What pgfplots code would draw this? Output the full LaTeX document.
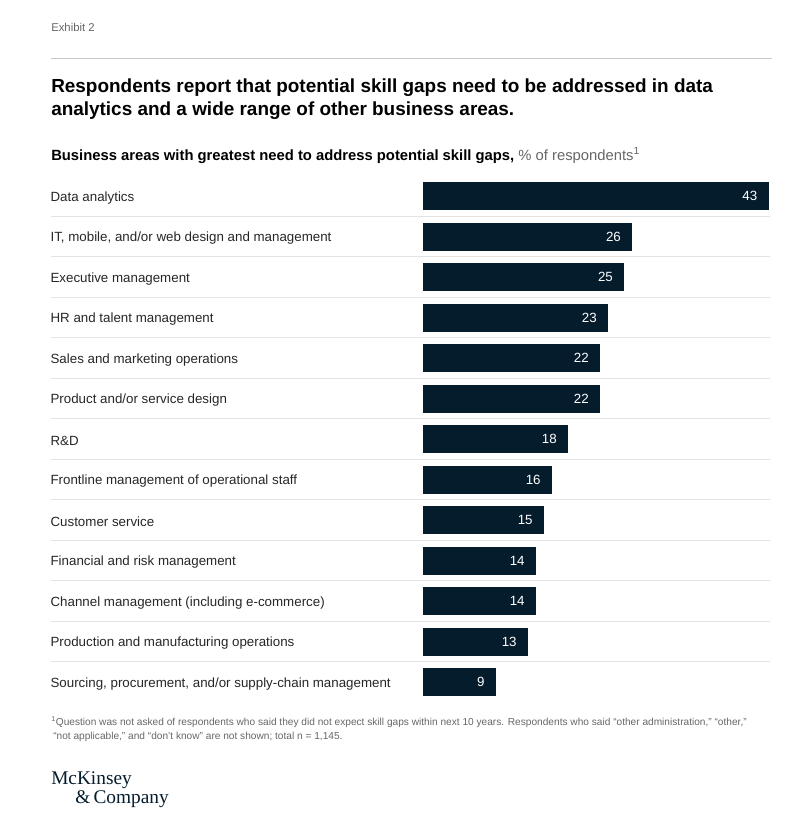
\documentclass[border=0pt]{standalone}
\usepackage{pgfplots}
\pgfplotsset{compat=1.18}
\usepackage{fontspec}
\setmainfont{Liberation Sans}
\newfontfamily\logofont{Liberation Serif}
\definecolor{navy}{HTML}{051C2C}
\definecolor{labelgray}{HTML}{262626}
\definecolor{notegray}{HTML}{666666}
\definecolor{rulegray}{HTML}{C8C8C8}
\definecolor{sepgray}{HTML}{E3E3E3}
\pgfplotstableread{
row val
0 43
1 26
2 25
3 23
4 22
5 22
6 18
7 16
8 15
9 14
10 14
11 13
12 9
}\skilldata
\begin{document}
\begin{tikzpicture}[x=0.75pt,y=-0.75pt]
\useasboundingbox (0,0) rectangle (790,819);
% header
\node[anchor=base west,inner sep=0pt,text=notegray,font=\fontsize{8.5pt}{10pt}\selectfont] at (51,31) {Exhibit 2};
\draw[rulegray,line width=0.75pt] (51,58) -- (772,58);
\node[anchor=base west,inner sep=0pt,font=\fontsize{14.2pt}{16pt}\selectfont\bfseries] at (51,92) {Respondents report that potential skill gaps need to be addressed in data};
\node[anchor=base west,inner sep=0pt,font=\fontsize{14.2pt}{16pt}\selectfont\bfseries] at (51,115) {analytics and a wide range of other business areas.};
\node[anchor=base west,inner sep=0pt,font=\fontsize{11.1pt}{13pt}\selectfont] at (51,160) {\textbf{Business areas with greatest need to address potential skill gaps,} {\color{notegray}\% of respondents\textsuperscript{1}}};
% axis
\begin{axis}[
  at={(38.25pt,-131.8125pt)}, anchor=north west,
  scale only axis, width=539.25pt, height=394.875pt,
  xmin=-46.37, xmax=43.25, ymin=-0.5, ymax=12.5, y dir=reverse,
  axis line style={draw=none}, tick style={draw=none},
  xtick=\empty,
  ytick={0,...,12},
  yticklabels={Data analytics, {IT, mobile, and/or web design and management}, Executive management, HR and talent management, Sales and marketing operations, Product and/or service design, R\&D, Frontline management of operational staff, Customer service, Financial and risk management, Channel management (including e-commerce), Production and manufacturing operations, {Sourcing, procurement, and/or supply-chain management}},
  yticklabel style={anchor=west, inner sep=0pt, xshift=3.75pt, yshift=-1.2pt, text=labelgray, font=\fontsize{10pt}{12pt}\selectfont},
  minor ytick={0.5,1.5,...,11.5},
  yminorgrids, minor grid style={sepgray, line width=0.9pt},
  xbar, bar width=20.25pt, bar shift=0pt,
  nodes near coords,
  /pgf/number format/assume math mode=true,
  nodes near coords style={anchor=east, text=white, xshift=-4.5pt, font=\fontsize{10pt}{12pt}\selectfont},
  clip=false,
]
\addplot[fill=navy, draw=navy] table[x=val, y=row] {\skilldata};
\end{axis}
% footnote
\node[anchor=base west,inner sep=0pt,text=notegray,font=\fontsize{7.6pt}{9pt}\selectfont] at (51,725) {\textsuperscript{1}Question was not asked of respondents who said they did not expect skill gaps within next 10 years. Respondents who said ``other administration,'' ``other,''};
\node[anchor=base west,inner sep=0pt,text=notegray,font=\fontsize{7.6pt}{9pt}\selectfont] at (53,739) {``not applicable,'' and ``don't know'' are not shown; total n = 1,145.};
% logo
\node[anchor=base west,inner sep=0pt,text=navy,font=\logofont\fontsize{14.5pt}{16pt}\selectfont] at (51,784) {McKinsey};
\node[anchor=base west,inner sep=0pt,text=navy,font=\logofont\fontsize{14.5pt}{16pt}\selectfont] at (75,803) {\&\,Company};
\end{tikzpicture}
\end{document}
